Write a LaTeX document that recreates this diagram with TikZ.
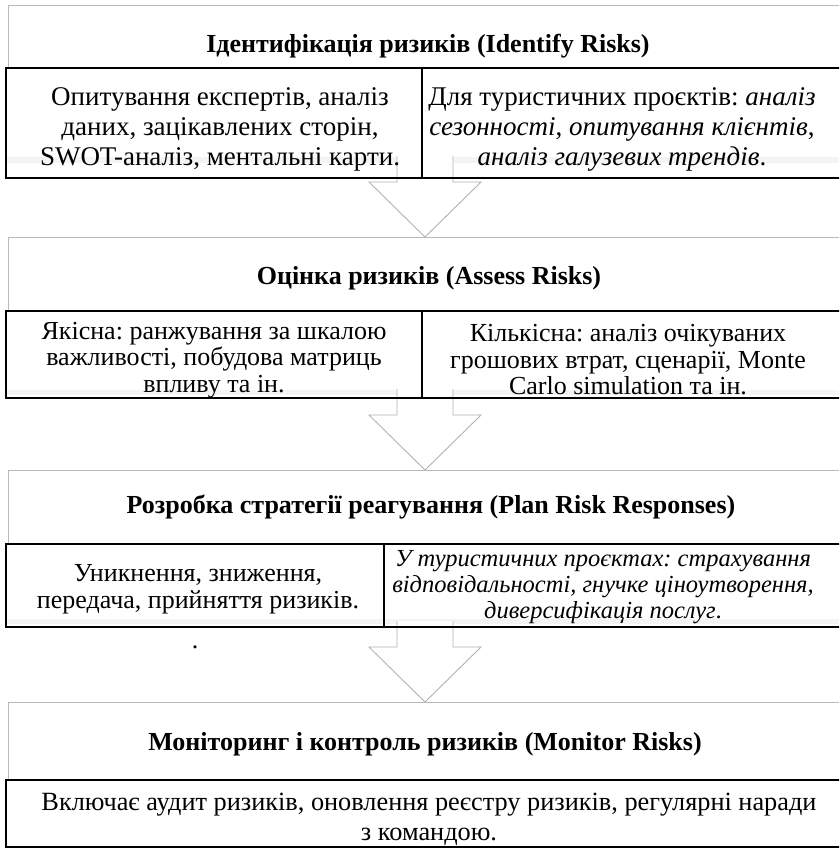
\documentclass[tikz,border=0pt]{standalone}
\usepackage{fontspec}
\setmainfont{Liberation Serif}
\frenchspacing
\begin{document}
\begin{tikzpicture}[x=1pt,y=-1pt,
  hdrbox/.style={draw=gray!55, line width=0.9pt},
  subbox/.style={draw=black, line width=1.4pt},
  blk/.style={draw=gray!60, fill=white, line width=0.9pt, line join=miter},
  bandfill/.style={fill=gray!9, draw=none},
  ttl/.style={font=\fontsize{26}{30}\selectfont\bfseries, inner sep=0pt},
  bodyA/.style={font=\fontsize{27}{30}\selectfont, align=center, inner sep=0pt},
  bodyB/.style={font=\fontsize{26}{26.5}\selectfont, align=center, inner sep=0pt},
  bodyD/.style={font=\fontsize{26.3}{30}\selectfont, align=center, inner sep=0pt},
  bodyE/.style={font=\fontsize{26}{27.5}\selectfont, align=center, inner sep=0pt},
  bodyC/.style={font=\fontsize{24.5}{26}\selectfont, align=center, inner sep=0pt},
  downarr/.pic={\draw[blk] (-28,-81) -- (-28,-55) -- (-56,-55) -- (0,0) -- (56,-55) -- (28,-55) -- (28,-81);}
]
\useasboundingbox (0,0) rectangle (839,852);
\clip (0,0) rectangle (839,852);
\fill[white] (0,0) rectangle (839,852);

% faint bands
\fill[bandfill] (7,157) rectangle (850,163);
\fill[bandfill] (7,390) rectangle (850,395);
\fill[bandfill] (7,619) rectangle (850,624);

% block arrows
\coordinate (tip1) at (425,237);
\coordinate (tip2) at (425,470);
\coordinate (tip3) at (425,702);
\pic at (tip1) {downarr};
\pic at (tip2) {downarr};
\pic at (tip3) {downarr};

% box 1
\draw[hdrbox] (8,5) rectangle (850,68);
\draw[subbox] (6,68) rectangle (850,178);
\draw[subbox] (422,68) -- (422,178);
% box 2
\draw[hdrbox] (8,237) rectangle (850,311);
\draw[subbox] (6,311) rectangle (850,398);
\draw[subbox] (422,311) -- (422,398);
% box 3
\draw[hdrbox] (8,470) rectangle (850,544);
\draw[subbox] (6,544) rectangle (850,627);
\draw[subbox] (384,544) -- (384,627);
% box 4
\draw[hdrbox] (8,702) rectangle (850,780);
\draw[subbox] (6,780) rectangle (850,847);

% texts
\node[ttl] (t1) at (428,46) {Ідентифікація ризиків (Identify Risks)};
\node[bodyA] (t1a) at (220,129) {Опитування експертів, аналіз\\даних, зацікавлених сторін,\\SWOT-аналіз, ментальні карти.};
\node[bodyA] (t1b) at (622,129) {Для туристичних проєктів: \textit{аналіз}\\\textit{сезонності}, \textit{опитування клієнтів},\\\textit{аналіз галузевих трендів}.};

\node[ttl] (t2) at (429,278) {Оцінка ризиків (Assess Risks)};
\node[bodyB] (t2a) at (214,360) {Якісна: ранжування за шкалою\\важливості, побудова матриць\\впливу та ін.};
\node[bodyB] (t2b) at (628,360) {Кількісна: аналіз очікуваних\\грошових втрат, сценарії, Monte\\Carlo simulation та ін.};

\node[ttl] (t3) at (431,507) {Розробка стратегії реагування (Plan Risk Responses)};
\node[bodyE] (t3a) at (198,589) {Уникнення, зниження,\\передача, прийняття ризиків.};
\node[bodyC] (t3b) at (603,587) {\textit{У туристичних проєктах: страхування}\\\textit{відповідальності, гнучке ціноутворення,}\\\textit{диверсифікація послуг}.};
\node[bodyB] (dot) at (195,647) {.};

\node[ttl] (t4) at (425,744) {Моніторинг і контроль ризиків (Monitor Risks)};
\node[bodyD] (t4a) at (429,819) {Включає аудит ризиків, оновлення реєстру ризиків, регулярні наради\\з командою.};
\end{tikzpicture}
\end{document}
